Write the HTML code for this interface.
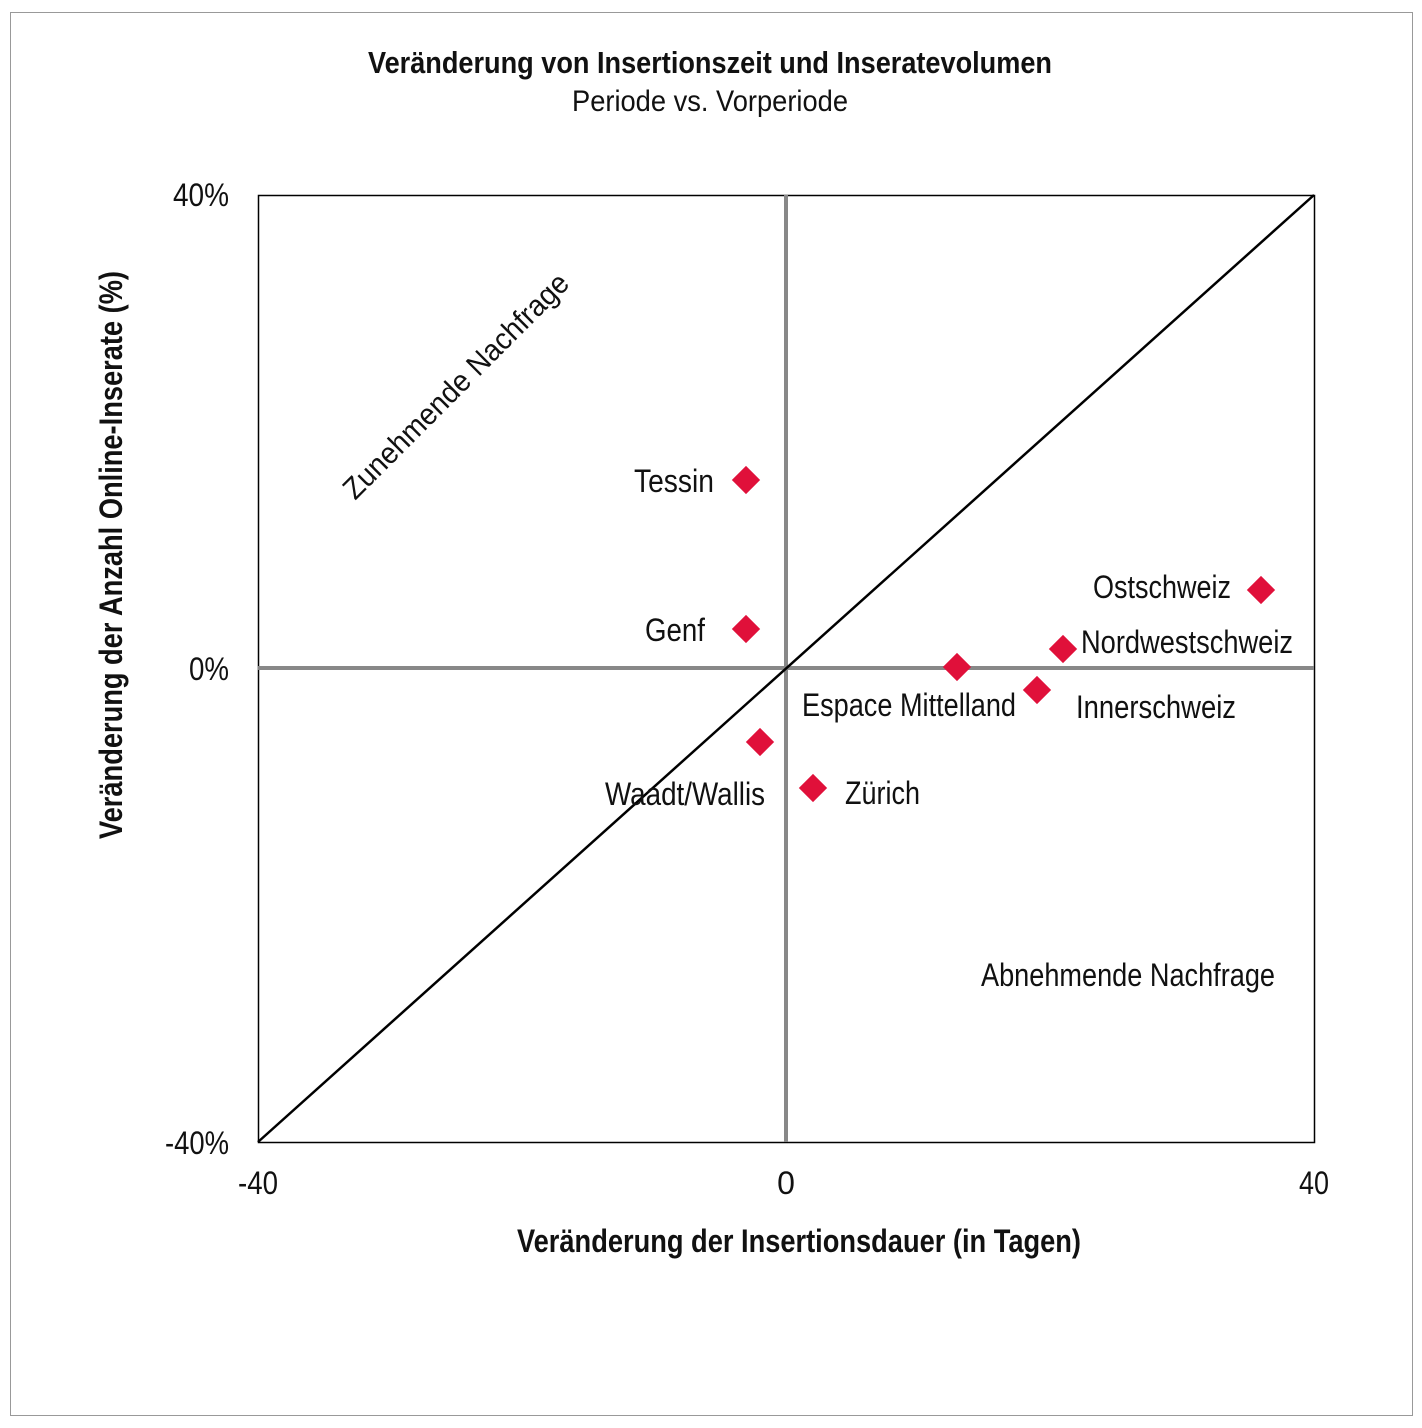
<!DOCTYPE html><html><head><style>body{margin:0;background:#fff}svg{display:block}text{font-family:"Liberation Sans Narrow","Liberation Sans",sans-serif;fill:#111}</style></head><body>
<svg width="1422" height="1428" xmlns="http://www.w3.org/2000/svg">
<rect x="10.5" y="12.5" width="1402" height="1403" fill="#fff" stroke="#999" stroke-width="1"/>
<text x="710" y="73" text-anchor="middle" font-size="31" font-weight="bold" textLength="684" lengthAdjust="spacingAndGlyphs">Veränderung von Insertionszeit und Inseratevolumen</text>
<text x="710" y="111" text-anchor="middle" font-size="30" textLength="276" lengthAdjust="spacingAndGlyphs">Periode vs. Vorperiode</text>
<rect x="258.5" y="195.5" width="1056" height="947" fill="none" stroke="#000" stroke-width="1.5"/>
<line x1="786" y1="195" x2="786" y2="1142" stroke="#888" stroke-width="4"/>
<line x1="258" y1="668" x2="1314" y2="668" stroke="#888" stroke-width="4"/>
<line x1="258" y1="1142" x2="1314" y2="195" stroke="#000" stroke-width="2.5"/>
<g font-size="32">
<text x="229" y="206" text-anchor="end" textLength="56" lengthAdjust="spacingAndGlyphs">40%</text>
<text x="229" y="680" text-anchor="end" textLength="40" lengthAdjust="spacingAndGlyphs">0%</text>
<text x="229" y="1154" text-anchor="end" textLength="64" lengthAdjust="spacingAndGlyphs">-40%</text>
<text x="258" y="1194" text-anchor="middle" textLength="40" lengthAdjust="spacingAndGlyphs">-40</text>
<text x="786" y="1194" text-anchor="middle">0</text>
<text x="1314" y="1194" text-anchor="middle" textLength="30" lengthAdjust="spacingAndGlyphs">40</text>
</g>
<text x="799" y="1252" text-anchor="middle" font-size="32" font-weight="bold" textLength="564" lengthAdjust="spacingAndGlyphs">Veränderung der Insertionsdauer (in Tagen)</text>
<text transform="translate(122,555) rotate(-90)" text-anchor="middle" font-size="32" font-weight="bold" textLength="568" lengthAdjust="spacingAndGlyphs">Veränderung der Anzahl Online-Inserate (%)</text>
<text transform="translate(463,393) rotate(-45)" text-anchor="middle" font-size="30" textLength="305" lengthAdjust="spacingAndGlyphs">Zunehmende Nachfrage</text>
<text x="1128" y="986" text-anchor="middle" font-size="32" textLength="294" lengthAdjust="spacingAndGlyphs">Abnehmende Nachfrage</text>
<g fill="#e0103a">
<rect x="-10" y="-10" width="20" height="20" transform="translate(746,480) rotate(45)"/>
<rect x="-10" y="-10" width="20" height="20" transform="translate(746,629) rotate(45)"/>
<rect x="-10" y="-10" width="20" height="20" transform="translate(1261,590) rotate(45)"/>
<rect x="-10" y="-10" width="20" height="20" transform="translate(1063,649) rotate(45)"/>
<rect x="-10" y="-10" width="20" height="20" transform="translate(957,667) rotate(45)"/>
<rect x="-10" y="-10" width="20" height="20" transform="translate(1037,690) rotate(45)"/>
<rect x="-10" y="-10" width="20" height="20" transform="translate(760,742) rotate(45)"/>
<rect x="-10" y="-10" width="20" height="20" transform="translate(813,788) rotate(45)"/>
</g>
<g font-size="32">
<text x="634" y="492" textLength="80" lengthAdjust="spacingAndGlyphs">Tessin</text>
<text x="645" y="641" textLength="60" lengthAdjust="spacingAndGlyphs">Genf</text>
<text x="1093" y="598" textLength="138" lengthAdjust="spacingAndGlyphs">Ostschweiz</text>
<text x="1081" y="653" textLength="212" lengthAdjust="spacingAndGlyphs">Nordwestschweiz</text>
<text x="802" y="716" textLength="214" lengthAdjust="spacingAndGlyphs">Espace Mittelland</text>
<text x="1076" y="718" textLength="160" lengthAdjust="spacingAndGlyphs">Innerschweiz</text>
<text x="605" y="805" textLength="160" lengthAdjust="spacingAndGlyphs">Waadt/Wallis</text>
<text x="845" y="804" textLength="75" lengthAdjust="spacingAndGlyphs">Zürich</text>
</g>
</svg></body></html>
